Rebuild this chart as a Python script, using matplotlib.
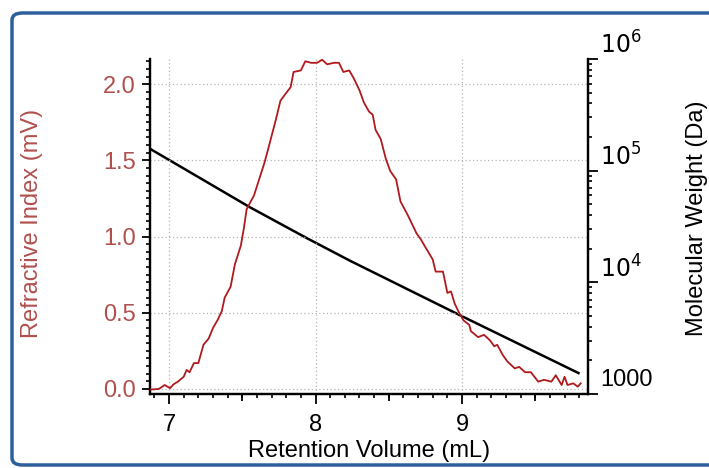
import matplotlib.pyplot as plt
import numpy as np
from matplotlib.patches import FancyBboxPatch
from matplotlib.transforms import ScaledTranslation
from matplotlib.ticker import MultipleLocator, FixedLocator, FixedFormatter, LogLocator, NullFormatter

plt.rcParams['font.family'] = ['Liberation Sans', 'DejaVu Sans']

# RI trace
rv_ri = [6.858, 6.93, 6.97, 7.007, 7.03, 7.06, 7.10, 7.12, 7.14, 7.17, 7.20, 7.235,
         7.27, 7.30, 7.33, 7.36, 7.38, 7.42, 7.45, 7.49, 7.51, 7.53, 7.58, 7.65,
         7.67, 7.70, 7.73, 7.76, 7.79, 7.83, 7.85, 7.90, 7.93, 7.97, 8.01, 8.045,
         8.08, 8.125, 8.16, 8.19, 8.23, 8.26, 8.30, 8.33, 8.365, 8.39, 8.41, 8.445,
         8.48, 8.51, 8.55, 8.58, 8.63, 8.67, 8.69, 8.72, 8.75, 8.80, 8.82, 8.87,
         8.90, 8.925, 8.95, 8.98, 9.01, 9.05, 9.06, 9.11, 9.15, 9.19, 9.22, 9.24,
         9.28, 9.31, 9.36, 9.39, 9.43, 9.47, 9.52, 9.56, 9.61, 9.64, 9.68, 9.70,
         9.72, 9.76, 9.79, 9.81]
ri_mv = [-0.005, 0.0, 0.026, 0.005, 0.03, 0.048, 0.08, 0.125, 0.11, 0.17, 0.17, 0.29,
         0.33, 0.40, 0.45, 0.51, 0.60, 0.67, 0.82, 0.94, 1.05, 1.18, 1.27, 1.48,
         1.55, 1.66, 1.77, 1.89, 1.93, 1.98, 2.08, 2.09, 2.15, 2.14, 2.14, 2.16,
         2.13, 2.14, 2.14, 2.08, 2.09, 2.04, 1.96, 1.88, 1.82, 1.80, 1.70, 1.64,
         1.51, 1.43, 1.375, 1.23, 1.14, 1.06, 1.02, 0.98, 0.93, 0.85, 0.77, 0.77,
         0.63, 0.64, 0.56, 0.50, 0.45, 0.42, 0.38, 0.34, 0.355, 0.32, 0.28, 0.29,
         0.22, 0.18, 0.135, 0.145, 0.11, 0.11, 0.048, 0.06, 0.048, 0.09, 0.026, 0.08,
         0.026, 0.037, 0.015, 0.037]

# calibration curve
rv_mw = [6.87, 7.555, 7.945, 8.24, 9.0, 9.795]
mw_da = [157000, 46800, 24700, 15500, 4970, 1540]

x_ticks = [7, 8, 9]
mw_ticks = [1e3, 1e4, 1e5, 1e6]
mw_labels = ['1000', '$10^4$', '$10^5$', '$10^6$']

red = '#b0191e'
label_red = '#b0504e'
fs = 17

fig = plt.figure(figsize=(7.09, 4.68), dpi=100)
fig.patches.append(FancyBboxPatch((12 / 709, 3 / 468), 760 / 709, 452 / 468,
                                  boxstyle='round,pad=0,rounding_size=0.015',
                                  transform=fig.transFigure, fill=False,
                                  edgecolor='#2d5f9c', linewidth=2.5, zorder=0))

ax = fig.add_axes([150 / 709, 1 - 394 / 468, 438 / 709, 335 / 468])
ax2 = ax.twinx()
ax.set_zorder(ax2.get_zorder() + 1)
ax.patch.set_visible(False)

ax.plot(rv_ri, ri_mv, color=red, lw=1.3, zorder=3)
ax2.plot(rv_mw, mw_da, color='black', lw=1.8)

ax.set_xlim(6.87, 9.86)
ax.set_ylim(-0.033, 2.165)
ax2.set_yscale('log')
ax2.set_ylim(1e3, 1e6)

ax.grid(True, color='#b4b4b4', linestyle=(0, (1, 2)), linewidth=0.9)
ax.xaxis.set_major_locator(FixedLocator(x_ticks))
ax.xaxis.set_minor_locator(MultipleLocator(0.1))
ax.yaxis.set_major_locator(MultipleLocator(0.5))
ax.yaxis.set_minor_locator(MultipleLocator(0.05))
ax.yaxis.set_major_formatter(plt.FormatStrFormatter('%.1f'))

for a in (ax, ax2):
    for s in a.spines.values():
        s.set_linewidth(1.6)
    a.spines['top'].set_visible(False)

ax.tick_params(axis='x', which='major', length=7.5, width=1.3, labelsize=fs, pad=7)
ax.tick_params(axis='x', which='minor', length=3, width=1.2)
ax.tick_params(axis='y', which='major', length=6, width=1.3, labelsize=fs,
               labelcolor=label_red, pad=4)
ax.tick_params(axis='y', which='minor', length=3, width=1.2)

# half-unit ticks on the x axis
sec = ax.secondary_xaxis('bottom')
sec.spines['bottom'].set_visible(False)
sec.set_xticks([7.5, 8.5, 9.5])
sec.tick_params(length=5, width=1.3, labelbottom=False)

ax2.yaxis.set_major_locator(FixedLocator(mw_ticks))
ax2.yaxis.set_major_formatter(FixedFormatter(mw_labels))
ax2.yaxis.set_minor_locator(LogLocator(base=10, subs=np.arange(2, 10)))
ax2.yaxis.set_minor_formatter(NullFormatter())
ax2.tick_params(axis='y', which='major', length=7.5, width=1.3, labelsize=fs, pad=1)
ax2.tick_params(axis='y', which='minor', length=3, width=1.2)
for lab in ax2.get_yticklabels():
    lab.set_transform(lab.get_transform() + ScaledTranslation(0, 0.16, fig.dpi_scale_trans))

ax.set_xlabel('Retention Volume (mL)', fontsize=fs, labelpad=3)
ax.set_ylabel('Refractive Index (mV)', fontsize=fs, color=label_red)
ax.yaxis.set_label_coords(-0.245, 0.51)
fig.text(697 / 709, 1 - 218 / 468, 'Molecular Weight (Da)', rotation=90,
         fontsize=fs, ha='center', va='center')

fig.savefig('out.png', dpi=100)
